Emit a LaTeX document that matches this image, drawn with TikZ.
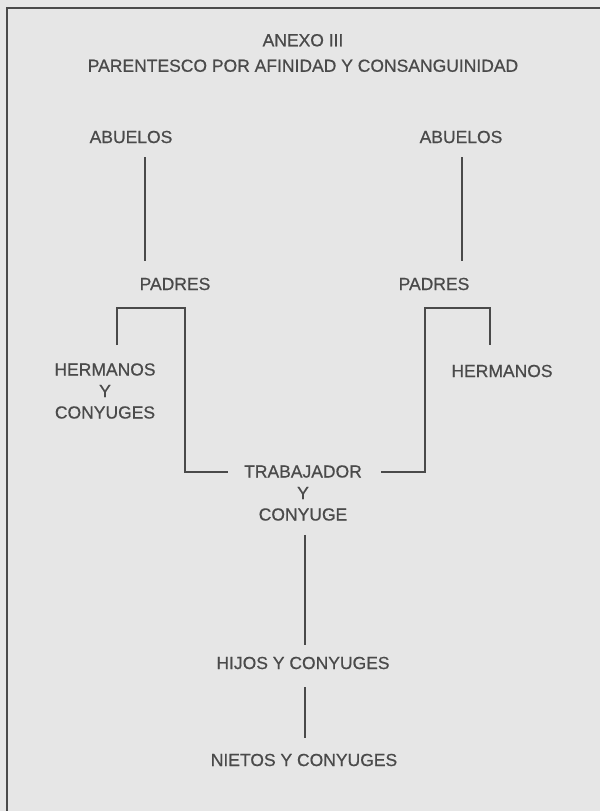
\documentclass[tikz,border=0pt]{standalone}
\usepackage{fontspec}
\setmainfont{Liberation Sans}
\usetikzlibrary{calc}
\definecolor{paper}{HTML}{E6E6E6}
\definecolor{ink}{HTML}{4A4A4A}
\begin{document}
\begin{tikzpicture}[x=1pt,y=-1pt,
  lbl/.style={text=ink, inner sep=0pt, align=center, font=\fontsize{17.5}{21.5}\selectfont\addfontfeature{FakeBold=0.6}},
  link/.style={draw=ink, line width=1.8pt},
  frame/.style={draw=ink, line width=2.6pt}]
\fill[paper] (0,0) rectangle (600,811);
\useasboundingbox (0,0) rectangle (600,811);
\draw[frame] (7,811) -- (7,8) -- (600,8);
\node[lbl] (title) at (303,53) {ANEXO III\\[4pt]PARENTESCO POR AFINIDAD Y CONSANGUINIDAD};
\node[lbl] (abL) at (131,137) {ABUELOS};
\node[lbl] (abR) at (461,137) {ABUELOS};
\node[lbl] (paL) at (175,284) {PADRES};
\node[lbl] (paR) at (434,284) {PADRES};
\node[lbl] (heL) at (105,391) {HERMANOS\\Y\\CONYUGES};
\node[lbl] (heR) at (502,371) {HERMANOS};
\node[lbl] (tr) at (303,493) {TRABAJADOR\\Y\\CONYUGE};
\node[lbl] (hi) at (303,663) {HIJOS Y CONYUGES};
\node[lbl] (ni) at (304,760) {NIETOS Y CONYUGES};
\draw[link] ($(abL.south)+(14,14)$) -- ($(paL.north)+(-30,-17)$);
\draw[link] ($(abR.south)+(1,14)$) -- ($(paR.north)+(28,-17)$);
\draw[link] ($(heL.north)+(12,-18)$) |- ($(paL.south)+(10,18)$) |- ($(tr.north west)+(-16,7)$);
\draw[link] ($(tr.north east)+(19,7)$) -| ($(paR.south)+(-9,18)$) -| ($(heR.north)+(-12,-20)$);
\draw[link] ($(tr.south)+(2,14)$) -- ($(hi.north)+(2,-12)$);
\draw[link] ($(hi.south)+(2,18)$) -- ($(ni.north)+(1,-16)$);
\end{tikzpicture}
\end{document}
